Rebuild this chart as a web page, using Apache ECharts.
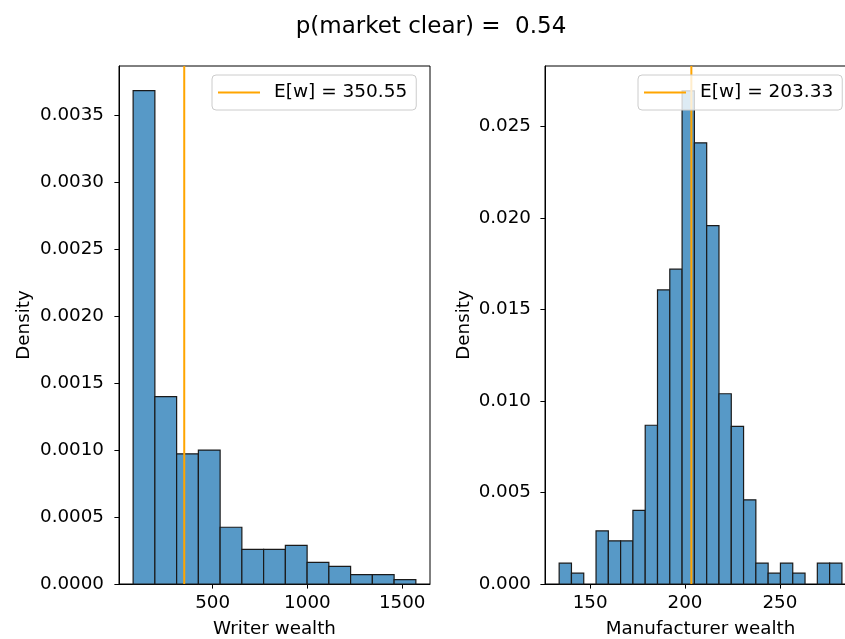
<!DOCTYPE html>
<html>
<head>
<meta charset="utf-8">
<script src="https://cdn.jsdelivr.net/npm/echarts@6.0.0/dist/echarts.min.js"></script>
<style>
  html, body { margin: 0; padding: 0; background: #fff; }
  #main { width: 845px; height: 639px; }
</style>
</head>
<body>
<div id="main"></div>
<script>
  // histogram values
  const pClear = 0.54;

  const writerEdges = [81.0, 195.7, 310.4, 425.1, 539.8, 654.5, 769.2, 883.9, 998.6, 1113.3, 1228.0, 1342.7, 1457.4, 1572.1];
  const writerDensity = [0.003685, 0.00140, 0.000972, 0.00100, 0.000424, 0.000259, 0.000259, 0.000289, 0.000162, 0.000132, 0.000070, 0.000070, 0.000032];
  const writerMean = 350.55;
  const writerXTicks = [500, 1000, 1500];
  const writerYTicks = [0, 0.0005, 0.0010, 0.0015, 0.0020, 0.0025, 0.0030, 0.0035];

  const makerEdges = [133.66, 140.14, 146.62, 153.10, 159.58, 166.05, 172.53, 179.01, 185.49, 191.97, 198.45, 204.93,
    211.41, 217.89, 224.37, 230.85, 237.32, 243.80, 250.28, 256.76, 263.24, 269.72, 276.20, 282.68];
  const makerDensity = [0.00114, 0.00059, 0, 0.00290, 0.00236, 0.00236, 0.00402, 0.00868, 0.01608, 0.01721, 0.02696, 0.02412,
    0.01959, 0.01040, 0.00862, 0.00460, 0.00114, 0.00059, 0.00114, 0.00059, 0, 0.00114, 0.00114];
  const makerMean = 203.33;
  const makerXTicks = [150, 200, 250];
  const makerYTicks = [0, 0.005, 0.010, 0.015, 0.020, 0.025];

  const FONT = 'DejaVu Sans';
  const black = '#000';

  function toBins(edges, dens) {
    const out = [];
    for (let i = 0; i < dens.length; i++) {
      if (dens[i] > 0) out.push([edges[i], edges[i + 1], dens[i]]);
    }
    return out;
  }

  function histItem(params, api) {
    const p0 = api.coord([api.value(0), api.value(2)]);
    const p1 = api.coord([api.value(1), 0]);
    return {
      type: 'rect',
      shape: { x: p0[0], y: p0[1], width: p1[0] - p0[0], height: p1[1] - p0[1] },
      style: { fill: '#5799c7', stroke: '#1a1a1a', lineWidth: 1.2 }
    };
  }

  function xAxisOf(idx, min, max, ticks, name) {
    return {
      type: 'value', gridIndex: idx, min: min, max: max,
      splitLine: { show: false },
      axisLine: { show: true, onZero: false, lineStyle: { color: black, width: 1 } },
      axisTick: { show: true, length: 4.6, customValues: ticks, lineStyle: { color: black, width: 1 } },
      axisLabel: {
        customValues: ticks, color: black, fontSize: 18.3, fontFamily: FONT, margin: 10,
        formatter: v => String(v)
      },
      name: name, nameLocation: 'middle', nameGap: 36,
      nameTextStyle: { color: black, fontSize: 18.3, fontFamily: FONT }
    };
  }

  function yAxisOf(idx, max, ticks, digits, gap, margin) {
    return {
      type: 'value', gridIndex: idx, min: 0, max: max,
      splitLine: { show: false },
      axisLine: { show: true, lineStyle: { color: black, width: 1 } },
      axisTick: { show: true, length: 4.6, customValues: ticks, lineStyle: { color: black, width: 1 } },
      axisLabel: {
        customValues: ticks, color: black, fontSize: 18.3, fontFamily: FONT, margin: margin,
        formatter: v => v.toFixed(digits)
      },
      name: 'Density', nameLocation: 'middle', nameRotate: 90, nameGap: gap,
      nameTextStyle: { color: black, fontSize: 18.3, fontFamily: FONT }
    };
  }

  function legendOf(name, left) {
    return {
      data: [name], left: left, top: 75,
      orient: 'horizontal',
      icon: 'rect', itemWidth: 42, itemHeight: 2,
      padding: [8, 9, 8, 6],
      backgroundColor: 'rgba(255,255,255,0.8)',
      borderColor: '#cccccc', borderWidth: 1, borderRadius: 4,
      textStyle: { color: black, fontSize: 18.5, fontFamily: FONT, padding: [0, 0, 0, 9] }
    };
  }

  const writerYMax = 0.003869;
  const makerYMax = 0.02832;
  const writerName = 'E[w] = ' + writerMean.toFixed(2);
  const makerName = 'E[w] = ' + makerMean.toFixed(2);

  const chart = echarts.init(document.getElementById('main'), null, { renderer: 'canvas' });
  chart.setOption({
    animation: false,
    backgroundColor: '#fff',
    graphic: [{
      type: 'text', x: 431, y: 27,
      style: {
        text: 'p(market clear) =  ' + pClear.toFixed(2),
        fill: black, font: '23px "DejaVu Sans"', align: 'center', verticalAlign: 'middle'
      }
    }],
    grid: [
      { left: 119, top: 66, width: 311, height: 518, show: true, borderColor: black, borderWidth: 1,
        backgroundColor: 'transparent', outerBoundsMode: 'none', containLabel: false },
      { left: 545, top: 66, width: 311, height: 518, show: true, borderColor: black, borderWidth: 1,
        backgroundColor: 'transparent', outerBoundsMode: 'none', containLabel: false }
    ],
    xAxis: [
      xAxisOf(0, 6.5, 1646.7, writerXTicks, 'Writer wealth'),
      xAxisOf(1, 126.2, 290.1, makerXTicks, 'Manufacturer wealth')
    ],
    yAxis: [
      yAxisOf(0, writerYMax, writerYTicks, 4, 86, 15),
      yAxisOf(1, makerYMax, makerYTicks, 3, 72, 14)
    ],
    legend: [legendOf(writerName, 212), legendOf(makerName, 638)],
    series: [
      {
        type: 'custom', xAxisIndex: 0, yAxisIndex: 0,
        renderItem: histItem, encode: { x: [0, 1], y: 2 },
        data: toBins(writerEdges, writerDensity), z: 2
      },
      {
        type: 'custom', xAxisIndex: 1, yAxisIndex: 1,
        renderItem: histItem, encode: { x: [0, 1], y: 2 },
        data: toBins(makerEdges, makerDensity), z: 2
      },
      {
        type: 'line', name: writerName, xAxisIndex: 0, yAxisIndex: 0,
        data: [[writerMean, 0], [writerMean, writerYMax]],
        symbol: 'none', lineStyle: { color: '#ffa500', width: 2 }, itemStyle: { color: '#ffa500' }, z: 3
      },
      {
        type: 'line', name: makerName, xAxisIndex: 1, yAxisIndex: 1,
        data: [[makerMean, 0], [makerMean, makerYMax]],
        symbol: 'none', lineStyle: { color: '#ffa500', width: 2 }, itemStyle: { color: '#ffa500' }, z: 3
      }
    ]
  });
</script>
</body>
</html>
